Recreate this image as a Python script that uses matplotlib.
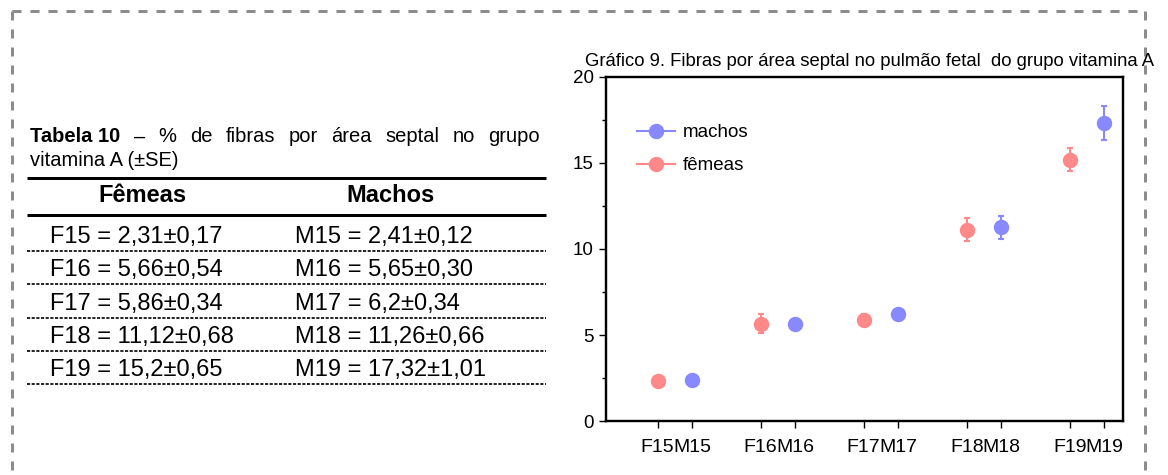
import matplotlib.pyplot as plt
from matplotlib.lines import Line2D

plt.rcParams['font.family'] = ['Liberation Sans', 'DejaVu Sans']

# Table values, as printed (comma decimals)
groups = ['15', '16', '17', '18', '19']
fem_mean_txt = ['2,31', '5,66', '5,86', '11,12', '15,2']
fem_se_txt = ['0,17', '0,54', '0,34', '0,68', '0,65']
mac_mean_txt = ['2,41', '5,65', '6,2', '11,26', '17,32']
mac_se_txt = ['0,12', '0,30', '0,34', '0,66', '1,01']


def num(s):
    return float(s.replace(',', '.'))


fem_mean = [num(s) for s in fem_mean_txt]
fem_se = [num(s) for s in fem_se_txt]
mac_mean = [num(s) for s in mac_mean_txt]
mac_se = [num(s) for s in mac_se_txt]

W, H = 1168, 475
PX = 0.72  # points per pixel at dpi 100

clr_m = '#8888FF'
clr_f = '#FF8888'
border = '#8c8c8c'

fig = plt.figure(figsize=(W / 100, H / 100), dpi=100, facecolor='white')

# full-figure layer in pixel coordinates for the frame and the table
bg = fig.add_axes([0, 0, 1, 1], zorder=0)
bg.set_xlim(0, W)
bg.set_ylim(H, 0)
bg.axis('off')

# dashed frame
dash = dict(color=border, lw=3 * PX, ls=(0, (3, 3)), solid_capstyle='butt')
bg.plot([12, 1145], [11, 11], **dash)
bg.plot([12, 12], [11, 480], **dash)
bg.plot([1145, 1145], [11, 480], **dash)
bg.plot([12, 1145], [475.5, 475.5], **dash)

# table caption, first line justified between x=30 and x=540
fs_cap = 14.5
words = [('Tabela 10', 'bold'), ('–', 'normal'), ('%', 'normal'), ('de', 'normal'),
         ('fibras', 'normal'), ('por', 'normal'), ('área', 'normal'),
         ('septal', 'normal'), ('no', 'normal'), ('grupo', 'normal')]
arts = [bg.text(0, 137, w, fontsize=fs_cap, fontweight=fw, va='center', ha='left')
        for w, fw in words]
r = fig.canvas.get_renderer()
widths = [a.get_window_extent(r).width for a in arts]
gap = (540 - 30 - sum(widths)) / (len(arts) - 1)
x = 30
for a, w in zip(arts, widths):
    a.set_x(x)
    x += w + gap
bg.text(30, 160, 'vitamina A (±SE)', fontsize=fs_cap, va='center', ha='left')

# table rules
bg.plot([27, 546], [178, 178], color='black', lw=3 * PX, solid_capstyle='butt')
bg.plot([27, 546], [215, 215], color='black', lw=3 * PX, solid_capstyle='butt')
bg.text(142, 195, 'Fêmeas', fontsize=17, fontweight='bold', ha='center', va='center')
bg.text(390, 195, 'Machos', fontsize=17, fontweight='bold', ha='center', va='center')

row_y = [237, 270, 304, 337, 370]
rule_y = [251, 284, 318, 351, 384]
for i, g in enumerate(groups):
    bg.text(50, row_y[i], f'F{g} = {fem_mean_txt[i]}±{fem_se_txt[i]}',
            fontsize=17, ha='left', va='center')
    bg.text(295, row_y[i], f'M{g} = {mac_mean_txt[i]}±{mac_se_txt[i]}',
            fontsize=17, ha='left', va='center')
    bg.plot([27, 546], [rule_y[i], rule_y[i]], color='#222222', lw=1.4,
            ls=(0, (1.6, 0.8)), solid_capstyle='butt')

# chart title
bg.text(585, 61, 'Gráfico 9. Fibras por área septal no pulmão fetal  do grupo vitamina A',
        fontsize=13.3, ha='left', va='center', zorder=5)

# scatter chart with error bars
ax = fig.add_axes([606 / W, 1 - 421 / H, (1123 - 606) / W, (421 - 77) / H], zorder=2)
ax.patch.set_alpha(0)
xf = [3 * i + 1 for i in range(len(groups))]
xm = [3 * i + 2 for i in range(len(groups))]

ax.errorbar(xf, fem_mean, yerr=fem_se, fmt='o', color=clr_f, ms=14 * PX,
            elinewidth=1.5, capsize=2.5, capthick=1.5)
ax.errorbar(xm, mac_mean, yerr=mac_se, fmt='o', color=clr_m, ms=14 * PX,
            elinewidth=1.5, capsize=2.5, capthick=1.5)

ax.set_xlim(-0.5, 14.55)
ax.set_ylim(0, 20)
ticks = sorted(xf + xm)
ax.set_xticks(ticks)
ax.set_xticklabels([f'{s}{g}' for g in groups for s in ('F', 'M')])
ax.set_yticks([0, 5, 10, 15, 20])
ax.set_yticks([2.5, 7.5, 12.5, 17.5], minor=True)
ax.tick_params(axis='both', which='major', direction='out', length=5, width=1,
               labelsize=13.5, pad=4)
ax.tick_params(axis='y', which='minor', direction='out', length=3, width=1)
ax.tick_params(axis='x', labelsize=14, pad=8)
for sp in ax.spines.values():
    sp.set_linewidth(2 * PX * 1.2)

handles = [Line2D([], [], color=clr_m, marker='o', ms=14 * PX, lw=1.5),
           Line2D([], [], color=clr_f, marker='o', ms=14 * PX, lw=1.5)]
ax.legend(handles, ['machos', 'fêmeas'], loc='upper left',
          bbox_to_anchor=((637 - 606) / (1123 - 606), 1 - (124 - 77) / (421 - 77)),
          frameon=False, fontsize=13.5, handlelength=2.0, handletextpad=0.45,
          labelspacing=0.85, borderaxespad=0, borderpad=0)

plt.savefig('out.png', dpi=100, facecolor='white')
